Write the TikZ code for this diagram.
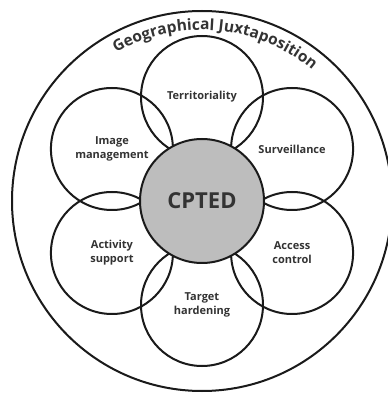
\documentclass[tikz,border=0pt]{standalone}
\usepackage{fontspec}
\setmainfont{Open Sans}
\usetikzlibrary{decorations.text,calc}
\definecolor{ink}{HTML}{1A1A1A}
\definecolor{txt}{HTML}{333333}
\definecolor{core}{HTML}{BDBDBD}
\tikzset{
  petal/.style={circle, draw=ink, line width=2pt, minimum size=122pt, inner sep=0pt,
    align=center, text=txt, font=\fontsize{11}{14}\selectfont\bfseries},
  hub/.style={circle, draw=ink, fill=core, line width=2pt, minimum size=124pt, inner sep=0pt,
    text=txt, font=\fontsize{22}{26}\selectfont\bfseries},
  rim/.style={circle, draw=ink, fill=white, line width=2pt, minimum size=380pt, inner sep=0pt}
}
\begin{document}
\begin{tikzpicture}[x=1pt,y=1pt]
\useasboundingbox (0,0) rectangle (388,394);
\clip (0,0) rectangle (388,394);
\fill[white] (0,0) rectangle (388,394);
\coordinate (c) at (202,193);
\node[rim] (outer) at (c) {};
\path[decorate, decoration={text along path, text align=center,
  text={|\fontsize{15.5}{17}\selectfont\bfseries\color{txt}|Geographical Juxtaposition}}]
  (c) ++(130:171) arc[start angle=130, end angle=40, radius=171];
\node[petal] (terr) at ($(c)+(90:104)$) {Territoriality};
\node[petal] (surv) at ($(c)+(30:104)$) {Surveillance};
\node[petal] (acc)  at ($(c)+(-30:104)$) {Access\\control};
\node[petal] (targ) at ($(c)+(-90:104)$) {Target\\hardening};
\node[petal] (act)  at ($(c)+(-150:104)$) {Activity\\support};
\node[petal] (img)  at ($(c)+(150:104)$) {Image\\management};
\node[hub] (cpted) at (c) {CPTED};
\end{tikzpicture}
\end{document}
